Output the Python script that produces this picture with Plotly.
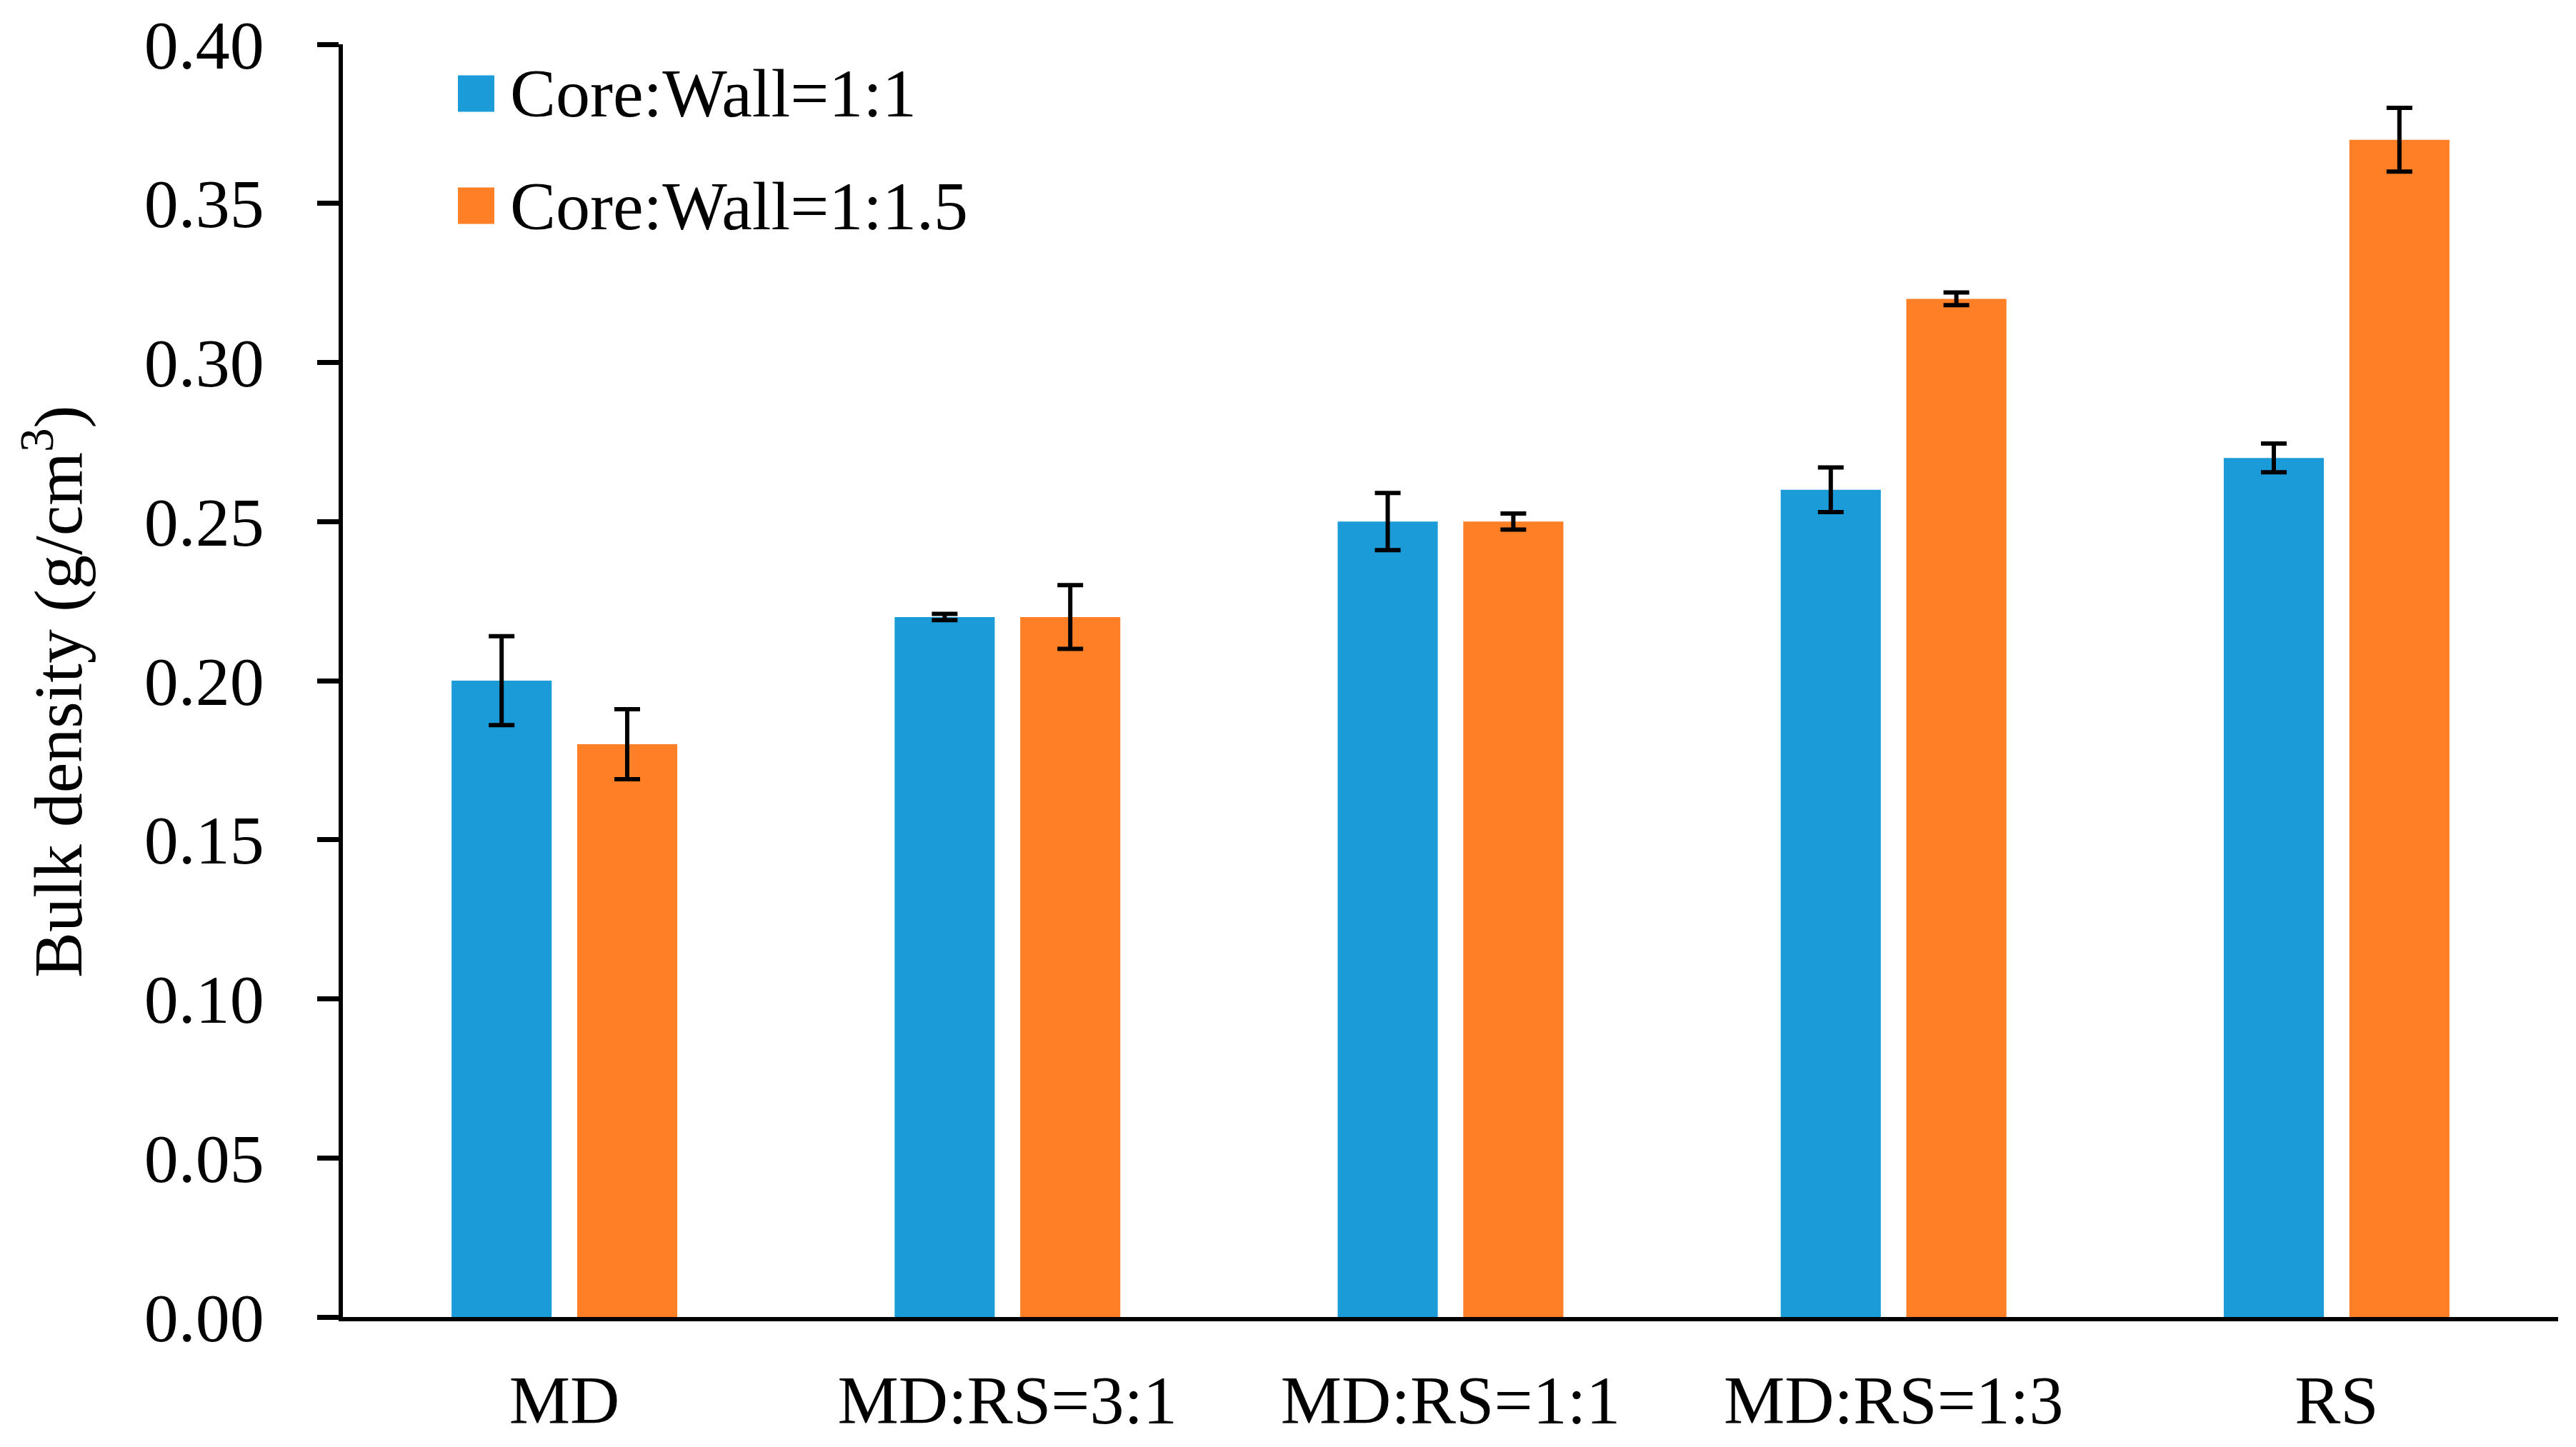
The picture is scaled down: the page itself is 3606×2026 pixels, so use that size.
import plotly.graph_objects as go

categories = ["MD", "MD:RS=3:1", "MD:RS=1:1", "MD:RS=1:3", "RS"]
series_names = ["Core:Wall=1:1", "Core:Wall=1:1.5"]
core_wall_1_1 = [0.20, 0.22, 0.25, 0.26, 0.27]
core_wall_1_1_err = [0.014, 0.001, 0.009, 0.007, 0.0045]
core_wall_1_15 = [0.18, 0.22, 0.25, 0.32, 0.37]
core_wall_1_15_err = [0.011, 0.010, 0.0025, 0.002, 0.010]
y_ticks = [0.00, 0.05, 0.10, 0.15, 0.20, 0.25, 0.30, 0.35, 0.40]
y_tick_labels = ["0.00", "0.05", "0.10", "0.15", "0.20", "0.25", "0.30", "0.35", "0.40"]

BLUE = "#1B9BD7"
ORANGE = "#FF7F27"
FONT = "Liberation Serif, Times New Roman, serif"
FS = 96

W, H = 3590, 2010
ML, MT = 472, 54
PW, PH = 3101, 1782
MR = W - ML - PW
MB = H - MT - PH

fig = go.Figure()
for name, vals, errs, col in [
    (series_names[0], core_wall_1_1, core_wall_1_1_err, BLUE),
    (series_names[1], core_wall_1_15, core_wall_1_15_err, ORANGE),
]:
    fig.add_trace(go.Bar(
        x=categories, y=vals, name=name, marker=dict(color=col, line=dict(width=0)),
        error_y=dict(type="data", array=errs, visible=True, color="black",
                     thickness=6, width=18),
        showlegend=False,
    ))

# manual legend (large square swatches), positions in figure pixels
def px_to_paper_x(px):
    return (px - ML) / PW

def px_to_paper_y(py):
    return 1 - (py - MT) / PH

legend_items = [(series_names[0], BLUE, 123), (series_names[1], ORANGE, 280)]
shapes = []
annotations = []
for name, col, cy in legend_items:
    shapes.append(dict(type="rect", xref="paper", yref="paper",
                       x0=px_to_paper_x(633), x1=px_to_paper_x(684),
                       y0=px_to_paper_y(cy + 25.5), y1=px_to_paper_y(cy - 25.5),
                       fillcolor=col, line=dict(width=0)))
    annotations.append(dict(xref="paper", yref="paper", x=px_to_paper_x(704),
                            y=px_to_paper_y(cy), text=name, showarrow=False,
                            xanchor="left", yanchor="middle",
                            font=dict(family=FONT, size=FS, color="black")))

annotations.append(dict(xref="paper", yref="paper", x=px_to_paper_x(66), y=px_to_paper_y(960),
                        text="Bulk density (g/cm<sup>3</sup>)", textangle=-90, showarrow=False,
                        xanchor="center", yanchor="middle",
                        font=dict(family=FONT, size=FS, color="black")))

fig.update_layout(
    width=W, height=H,
    margin=dict(l=ML, r=MR, t=MT, b=MB, autoexpand=False),
    paper_bgcolor="white", plot_bgcolor="white",
    barmode="group", bargap=0.433, bargroupgap=0.203,
    font=dict(family=FONT, size=FS, color="black"),
    shapes=shapes, annotations=annotations,
    showlegend=False,
)
fig.update_xaxes(
    showline=True, linecolor="black", linewidth=6, ticks="",
    showgrid=False, zeroline=False, ticklabelstandoff=28,
    tickfont=dict(family=FONT, size=FS, color="black"),
)
fig.update_yaxes(
    range=[0, 0.40], tickvals=y_ticks, ticktext=y_tick_labels,
    showline=True, linecolor="black", linewidth=6, ticks="outside",
    ticklen=30, tickwidth=7, tickcolor="black",
    showgrid=False, zeroline=False, ticklabelstandoff=55,
    ticklabeloverflow="allow",
    tickfont=dict(family=FONT, size=FS, color="black"),
)

fig.write_html("out.html")
